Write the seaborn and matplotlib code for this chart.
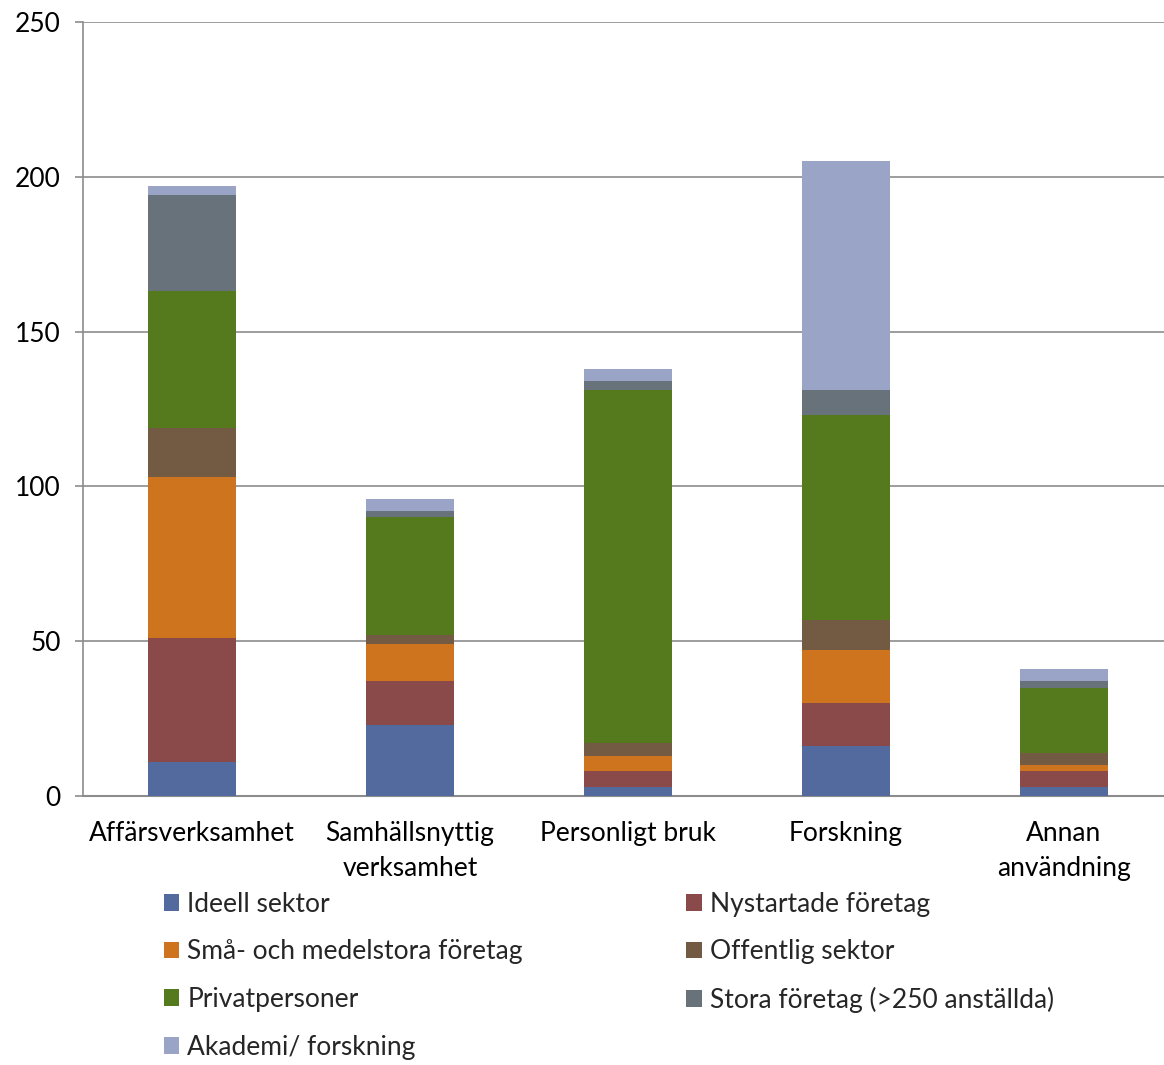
import pandas as pd
import seaborn as sns
import matplotlib.pyplot as plt
from matplotlib.patches import Patch

categories = ["Affärsverksamhet", "Samhällsnyttig\nverksamhet", "Personligt bruk",
              "Forskning", "Annan\nanvändning"]
series = ["Ideell sektor", "Nystartade företag", "Små- och medelstora företag",
          "Offentlig sektor", "Privatpersoner", "Stora företag (>250 anställda)",
          "Akademi/ forskning"]

ideell = [11, 23, 3, 16, 3]
nystartade = [40, 14, 5, 14, 5]
sma_medel = [52, 12, 5, 17, 2]
offentlig = [16, 3, 4, 10, 4]
privat = [44, 38, 114, 66, 21]
stora = [31, 2, 3, 8, 2]
akademi = [3, 4, 4, 74, 4]

colors = ["#536a9e", "#8b4a4a", "#cf741e", "#735a42", "#557a1e", "#67727a", "#99a4c7"]

values = [ideell, nystartade, sma_medel, offentlig, privat, stora, akademi]

rows = []
for s, vals in zip(series, values):
    for c, v in zip(categories, vals):
        rows.append({"serie": s, "kategori": c, "antal": v})
df = pd.DataFrame(rows)
df["serie"] = pd.Categorical(df["serie"], categories=series, ordered=True)
df = df.sort_values(["kategori", "serie"])
df["kumulativ"] = df.groupby("kategori")["antal"].cumsum()

sns.set_theme(style="white")
plt.rcParams["font.family"] = ["Lato", "DejaVu Sans"]
fs = 19

fig = plt.figure(figsize=(11.64, 10.65), dpi=100)
ax = fig.add_axes([83 / 1164, 1 - 796 / 1065, 1090 / 1164, 774 / 1065])

# draw stacked bars from the top layer down
for s, col in reversed(list(zip(series, colors))):
    sub = df[df["serie"] == s]
    sns.barplot(data=sub, x="kategori", y="kumulativ", order=categories,
                color=col, width=0.405, saturation=1, ax=ax, zorder=3,
                edgecolor="none", linewidth=0)

ax.set_xlim(-0.5, 4.5)
ax.set_ylim(0, 250)
ax.set_yticks([0, 50, 100, 150, 200, 250])
ax.grid(axis="y", color="#8c8c8c", linewidth=1.2, zorder=0)
ax.grid(axis="x", visible=False)
ax.set_xlabel("")
ax.set_ylabel("")

for side in ["top", "right"]:
    ax.spines[side].set_visible(False)
ax.spines["left"].set_color("#8c8c8c")
ax.spines["bottom"].set_color("#8c8c8c")
ax.spines["left"].set_linewidth(1.2)
ax.spines["bottom"].set_linewidth(1.5)

ax.set_xticks([0.5, 1.5, 2.5, 3.5, -0.5], minor=True)
ax.tick_params(axis="x", which="minor", length=8, width=1.2, color="#8c8c8c", direction="out")
ax.tick_params(axis="x", which="major", length=0, labelsize=fs, pad=18, colors="black")
ax.tick_params(axis="y", which="major", length=6, width=1.2, color="#8c8c8c",
               direction="out", labelsize=fs, pad=10, left=True, colors="black")
for lbl in ax.get_xticklabels():
    lbl.set_linespacing(1.5)
    lbl.set_verticalalignment("top")

# legend, row-wise order like the original
handles = [Patch(facecolor=c, edgecolor="none") for c in colors]
order = [0, 2, 4, 6, 1, 3, 5]
fig.legend([handles[i] for i in order], [series[i] for i in order],
           ncol=2, loc="upper left", bbox_to_anchor=(153 / 1164, 1 - 881 / 1065),
           frameon=False, fontsize=fs, handlelength=0.6, handleheight=0.6,
           handletextpad=0.3, labelspacing=0.86, columnspacing=6.2,
           borderaxespad=0)

fig.savefig("out.png", dpi=100)
